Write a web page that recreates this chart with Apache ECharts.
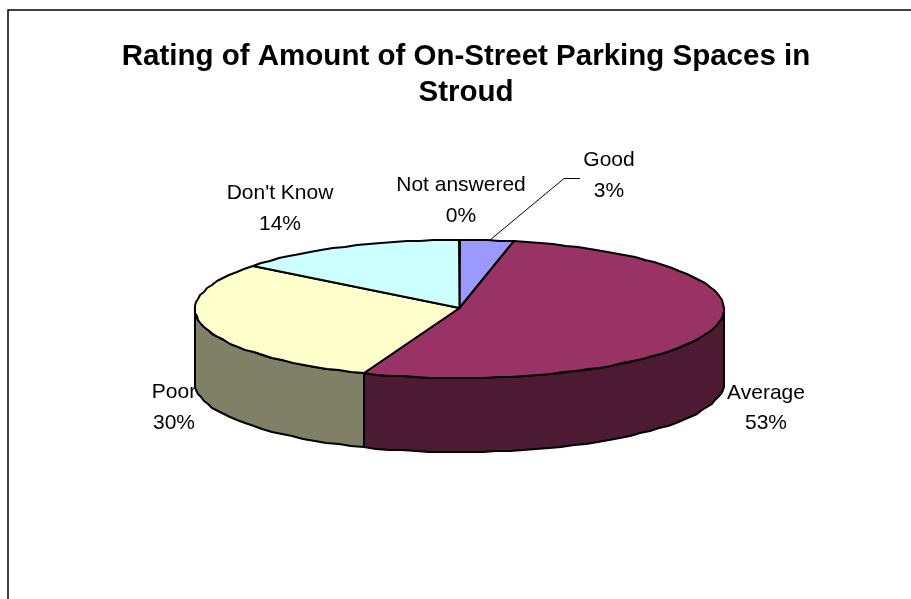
<!DOCTYPE html>
<html>
<head>
<meta charset="utf-8">
<style>html,body{margin:0;padding:0;background:#fff}#c{width:911px;height:599px}</style>
<script src="https://cdn.jsdelivr.net/npm/echarts@6/dist/echarts.min.js"></script>
</head>
<body>
<div id="c"></div>
<script>
const titleText = "Rating of Amount of On-Street Parking Spaces in\nStroud";
const categories = ["Good", "Average", "Poor", "Don't Know", "Not answered"];
const values = [3.3, 52.6, 29.8, 14.3, 0];
const topColors = ["#9999FF", "#993366", "#FFFFCC", "#CCFFFF", "#FFFFFF"];
const sideColors = ["#4D4D80", "#4D1A33", "#808066", "#668080", "#808080"];

// Layout of the pseudo-3D pie
const CX = 459.5, CY = 309, RX = 264.5, RY = 69, DEPTH = 74;
const FONT = '"Liberation Sans", Arial, sans-serif';
const labelCentres = {
  "Good": [609, 175.5],
  "Average": [766, 408],
  "Poor": [174, 407.5],
  "Don't Know": [280, 208.5],
  "Not answered": [461, 200.5]
};
const total = values.reduce((a, b) => a + b, 0);
const pt = (deg, dy) => {
  const t = deg * Math.PI / 180;
  return [Math.round(CX + RX * Math.sin(t)), Math.round(CY - RY * Math.cos(t) + (dy || 0))];
};
const arc = (a, b, dy) => {
  const out = [];
  const n = Math.max(1, Math.ceil(Math.abs(b - a) / 3));
  for (let i = 0; i <= n; i++) out.push(pt(a + (b - a) * i / n, dy));
  return out;
};
const stroke = { stroke: "#000", lineWidth: 2, lineJoin: "round" };

function renderItem(params, api) {
  const i = params.dataIndex;
  const value = api.value(0);
  let before = 0;
  for (let k = 0; k < i; k++) before += values[k];
  const a = before / total * 360, b = (before + value) / total * 360;
  const children = [];
  const c = labelCentres[categories[i]];
  children.push({
    type: "text", z2: -1,
    style: {
      x: c[0], y: c[1], text: categories[i] + "\n" + Math.round(value / total * 100) + "%",
      align: "center", verticalAlign: "middle",
      font: "21px " + FONT, lineHeight: 30.5, fill: "#000"
    }
  });
  if (value > 0) {
    const sa = Math.max(a, 90), sb = Math.min(b, 270);
    if (sb > sa) {
      children.push({
        type: "polygon", z2: 1,
        shape: { points: arc(sa, sb, 0).concat(arc(sb, sa, DEPTH)) },
        style: Object.assign({ fill: sideColors[i] }, stroke)
      });
    }
    children.push({
      type: "polygon", z2: 2,
      shape: { points: [[CX, CY - 1]].concat(arc(a, b, 0)) },
      style: Object.assign({ fill: topColors[i] }, stroke)
    });
  }
  return { type: "group", children };
}

const chart = echarts.init(document.getElementById("c"), null, { renderer: "canvas" });
chart.setOption({
  animation: false,
  backgroundColor: "#fff",
  title: {
    text: titleText, left: 461, top: 34, textAlign: "center",
    textStyle: { fontFamily: FONT, fontSize: 29.5, fontWeight: "bold", color: "#000", lineHeight: 36 }
  },
  graphic: [
    { type: "polyline", silent: true, shape: { points: [[8, 599], [8, 10], [911, 10]] },
      style: { fill: null, stroke: "#000", lineWidth: 1.5 } },
    { type: "polyline", silent: true, z: 1, shape: { points: [[490, 240], [564, 178.5], [580, 178.5]] },
      style: { fill: null, stroke: "#000", lineWidth: 1 } }
  ],
  series: [{
    type: "custom",
    coordinateSystem: "none",
    renderItem,
    z: 3,
    data: values.map((v, i) => ({ name: categories[i], value: [v] }))
  }]
});
</script>
</body>
</html>
